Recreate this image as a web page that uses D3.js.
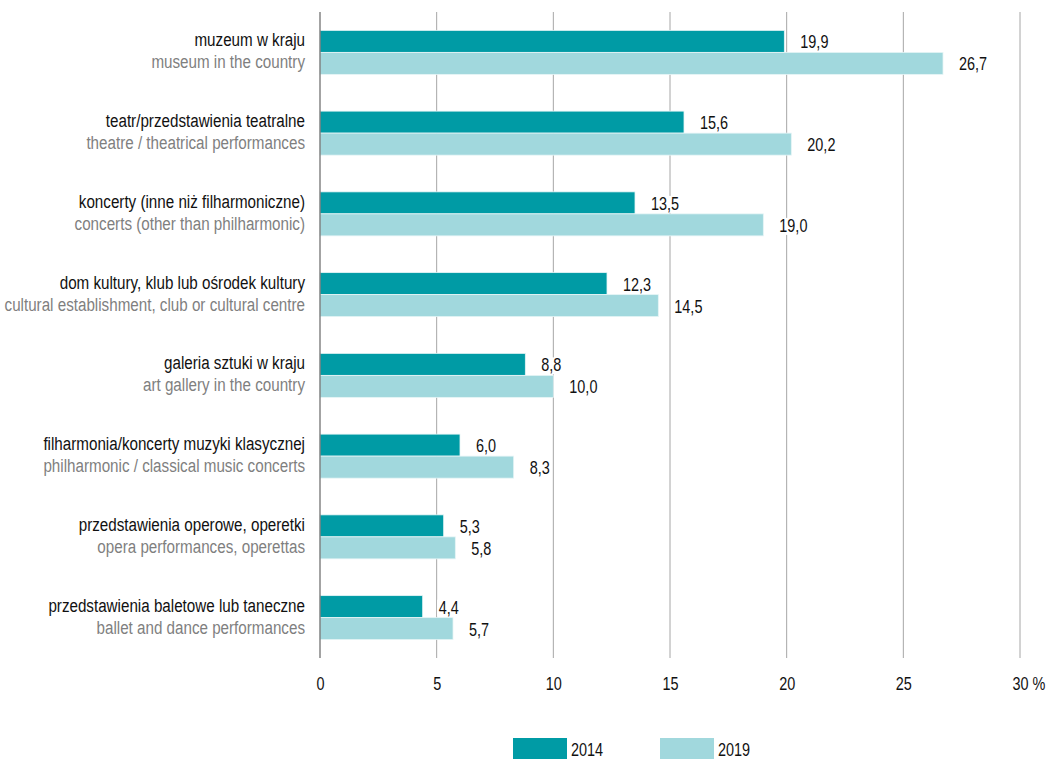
<!DOCTYPE html>
<html>
<head>
<meta charset="utf-8">
<script src="https://cdn.jsdelivr.net/npm/d3@7"></script>
<style>
  html, body { margin: 0; padding: 0; background: #fff; }
  svg { display: block; font-family: "Liberation Sans", Arial, sans-serif; }
</style>
</head>
<body>
<svg id="chart" width="1048" height="759"></svg>
<script>
// Cultural participation: share of respondents (%) attending each type of event
const categoriesPl = [
  "muzeum w kraju",
  "teatr/przedstawienia teatralne",
  "koncerty (inne niż filharmoniczne)",
  "dom kultury, klub lub ośrodek kultury",
  "galeria sztuki w kraju",
  "filharmonia/koncerty muzyki klasycznej",
  "przedstawienia operowe, operetki",
  "przedstawienia baletowe lub taneczne"
];
const categoriesEn = [
  "museum in the country",
  "theatre / theatrical performances",
  "concerts (other than philharmonic)",
  "cultural establishment, club or cultural centre",
  "art gallery in the country",
  "philharmonic / classical music concerts",
  "opera performances, operettas",
  "ballet and dance performances"
];
const values2014 = [19.9, 15.6, 13.5, 12.3, 8.8, 6.0, 5.3, 4.4];
const values2019 = [26.7, 20.2, 19.0, 14.5, 10.0, 8.3, 5.8, 5.7];
const seriesNames = ["2014", "2019"];
const xTicks = [0, 5, 10, 15, 20, 25, 30];

const colors = { "2014": "#009ba5", "2019": "#a1d8dd" };

// narrow type: regular face squeezed horizontally
const SX = 0.8;
const FS = 19;

const svg = d3.select("#chart");
const plotLeft = 320, plotRight = 1020, plotTop = 12, plotBottom = 658;

const x = d3.scaleLinear().domain([0, 30]).range([plotLeft, plotRight]);
const y = d3.scaleBand().domain(d3.range(categoriesPl.length)).range([plotTop, plotBottom]);
const barH = 22;
const ySeries = d3.scaleBand().domain(seriesNames).range([-barH, barH]);

const fmt = v => d3.format(".1f")(v).replace(".", ",");

// vertical gridlines
svg.append("g")
  .selectAll("line")
  .data(xTicks.filter(t => t > 0))
  .join("line")
  .attr("x1", d => x(d)).attr("x2", d => x(d))
  .attr("y1", plotTop).attr("y2", plotBottom)
  .attr("stroke", "#a6a6a6").attr("stroke-width", 1);

// rows
const rows = svg.append("g")
  .selectAll("g")
  .data(categoriesPl.map((c, i) => ({
    i, pl: c, en: categoriesEn[i],
    vals: [{ s: "2014", v: values2014[i] }, { s: "2019", v: values2019[i] }]
  })))
  .join("g")
  .attr("transform", d => `translate(0,${y(d.i) + y.bandwidth() / 2})`);

rows.selectAll("rect.bar")
  .data(d => d.vals)
  .join("rect")
  .attr("class", "bar")
  .attr("x", x(0))
  .attr("y", d => ySeries(d.s))
  .attr("width", d => x(d.v) - x(0))
  .attr("height", ySeries.bandwidth())
  .attr("fill", d => colors[d.s])
  .attr("stroke", "#e6f5f6").attr("stroke-width", 0.8);

// value labels with white backing
const lbl = rows.selectAll("g.val")
  .data(d => d.vals)
  .join("g")
  .attr("class", "val")
  .attr("transform", d => `translate(${x(d.v) + 16},${ySeries(d.s) + ySeries.bandwidth() / 2 + 7}) scale(0.78,1)`);
lbl.append("rect").attr("class", "bg").attr("fill", "#fff");
lbl.append("text")
  .attr("font-size", 18.5)
  .attr("fill", "#111")
  .text(d => fmt(d.v));
lbl.each(function () {
  const g = d3.select(this);
  const w = g.select("text").node().getComputedTextLength();
  g.select("rect.bg").attr("x", -2).attr("y", -14).attr("width", w + 4).attr("height", 17);
});

// category labels (Polish on top, English below)
rows.append("g")
  .attr("transform", `translate(305,-6) scale(${SX},1)`)
  .append("text")
  .attr("text-anchor", "end")
  .attr("font-size", FS)
  .attr("fill", "#111")
  .text(d => d.pl);
rows.append("g")
  .attr("transform", `translate(305,16) scale(${SX},1)`)
  .append("text")
  .attr("text-anchor", "end")
  .attr("font-size", FS)
  .attr("fill", "#7f7f7f")
  .text(d => d.en);

// zero axis line
svg.append("line")
  .attr("x1", x(0)).attr("x2", x(0))
  .attr("y1", plotTop).attr("y2", plotBottom)
  .attr("stroke", "#666").attr("stroke-width", 1.2);

// x axis tick labels
const xAxis = svg.append("g")
  .attr("transform", `translate(0,${plotBottom})`)
  .call(d3.axisBottom(x).tickValues(xTicks).tickSize(0).tickPadding(0).tickFormat(d3.format("d")));
xAxis.select(".domain").remove();
xAxis.selectAll("text")
  .attr("y", 32)
  .attr("dy", 0)
  .attr("font-size", 18.5)
  .attr("font-family", null)
  .attr("fill", "#111")
  .attr("transform", `scale(0.78,1)`);
xAxis.selectAll(".tick").filter(d => d === 30).select("text")
  .each(function () {
    const t = d3.select(this);
    const w = this.getComputedTextLength();
    t.attr("text-anchor", "start").attr("x", -w / 2);
    t.append("tspan").text(" %");
  });

// legend
const legend = svg.append("g");
const legendItems = [{ s: "2014", x: 513 }, { s: "2019", x: 660 }];
const li = legend.selectAll("g").data(legendItems).join("g")
  .attr("transform", d => `translate(${d.x},738)`);
li.append("rect").attr("width", 54).attr("height", 21).attr("fill", d => colors[d.s]);
li.append("g")
  .attr("transform", `translate(58,17.5) scale(0.78,1)`)
  .append("text")
  .attr("font-size", 18.5).attr("fill", "#111").text(d => d.s);
</script>
</body>
</html>
